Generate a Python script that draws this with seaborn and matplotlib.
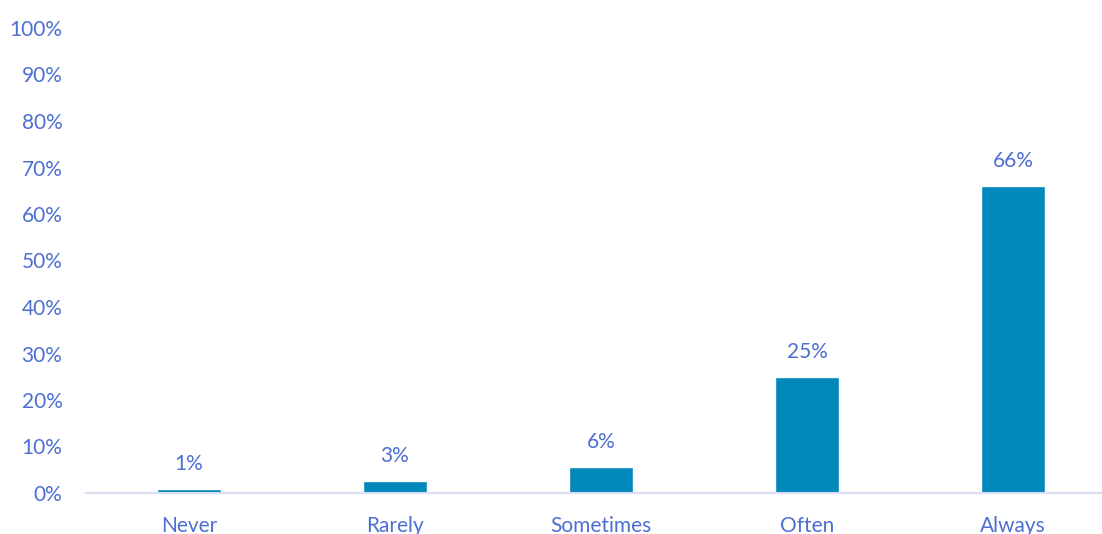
import matplotlib
matplotlib.use("Agg")
import matplotlib.pyplot as plt
import seaborn as sns
import pandas as pd

categories = ["Never", "Rarely", "Sometimes", "Often", "Always"]
values = [0.9, 2.6, 5.6, 25.0, 66.0]
value_labels = ["1%", "3%", "6%", "25%", "66%"]
y_ticks = [0, 10, 20, 30, 40, 50, 60, 70, 80, 90, 100]

sns.set_theme(style="white")
plt.rcParams["font.family"] = ["Lato", "DejaVu Sans"]

text_color = "#4D6FD2"
bar_color = "#0088BA"

df = pd.DataFrame({"cat": categories, "val": values})

fig = plt.figure(figsize=(11.02, 5.34), dpi=100)
ax = fig.add_axes([86 / 1102, 41 / 534, 1030 / 1102, 465 / 534])
sns.barplot(data=df, x="cat", y="val", color=bar_color, width=0.31, saturation=1, ax=ax)

ax.set_ylim(0, 100)
ax.set_xlim(-0.5, 4.5)
ax.set_yticks(y_ticks)
ax.set_yticklabels([f"{t}%" for t in y_ticks])
ax.set_xlabel("")
ax.set_ylabel("")
for s in ["top", "right", "left"]:
    ax.spines[s].set_visible(False)
ax.spines["bottom"].set_color("#D9DEF2")
ax.spines["bottom"].set_linewidth(1.5)
ax.tick_params(axis="y", length=0, pad=17, labelsize=15, labelcolor=text_color)
ax.tick_params(axis="x", length=0, pad=16.5, labelsize=15, labelcolor=text_color)

for i, (v, lab) in enumerate(zip(values, value_labels)):
    ax.annotate(lab, (i, v), xytext=(0, 18), textcoords="offset points",
                ha="center", va="center", fontsize=15, color=text_color)

fig.savefig("out.png", dpi=100)
